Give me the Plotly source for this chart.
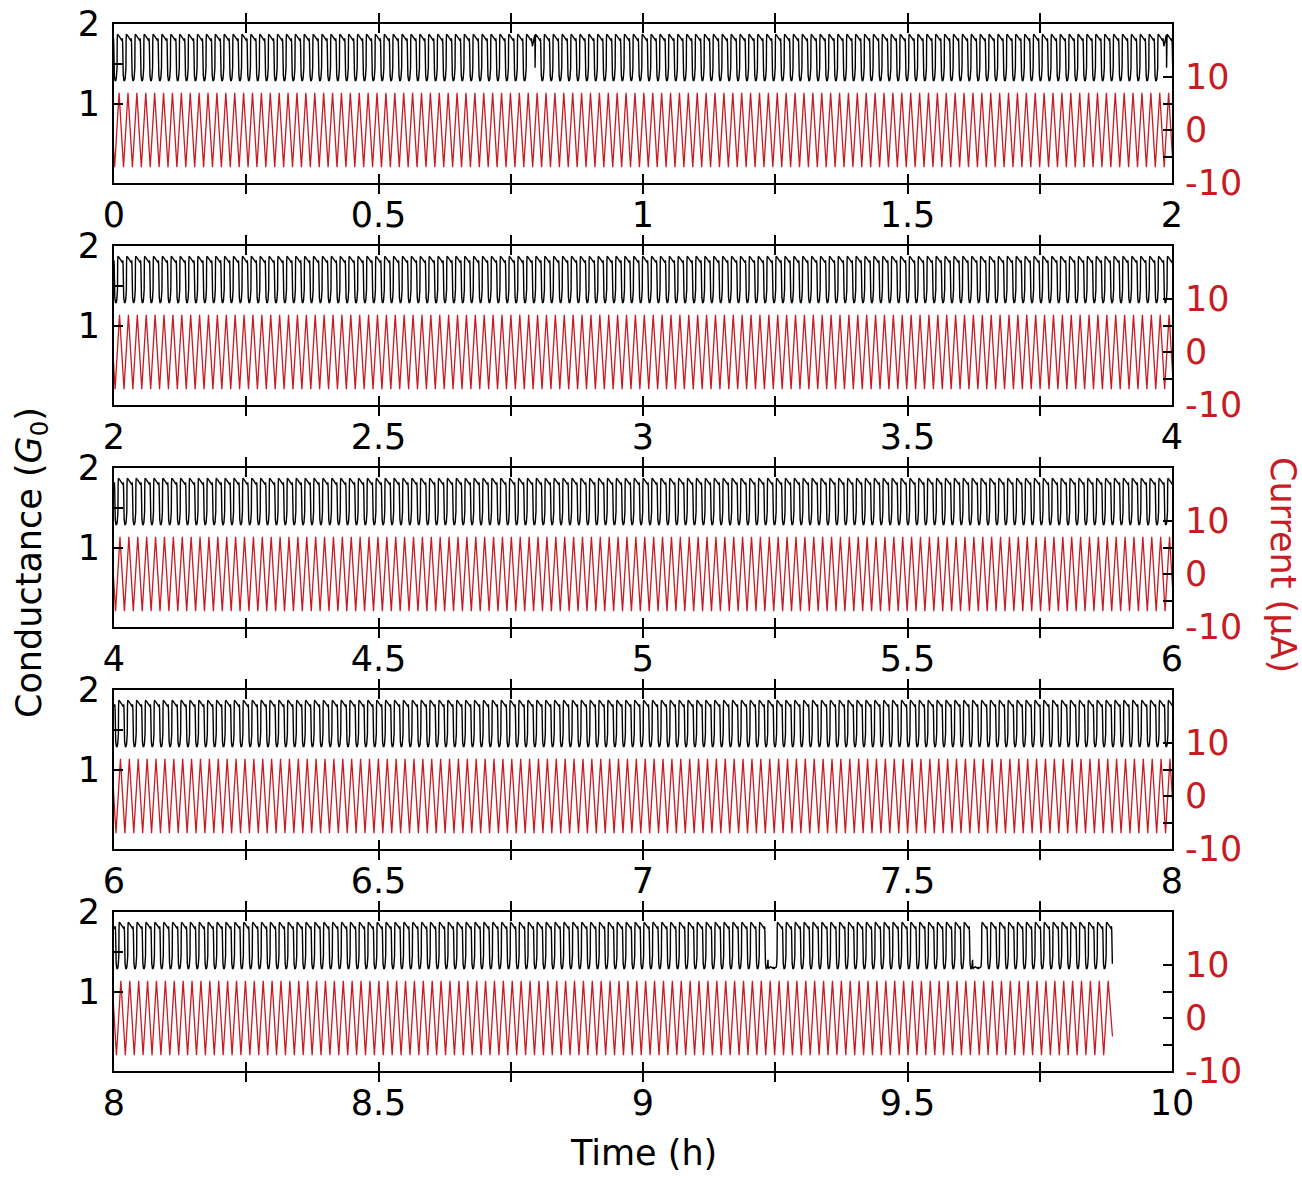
import numpy as np
import plotly.graph_objects as go

# ---- measured signal parameters -------------------------------------------
PERIOD_S = 60.53            # one full current sweep (s)
FIRST_TROUGH_H = 0.0012     # time of the first current minimum (h)
RECORD_END_H = 9.8875       # end of the recording (h)
CURRENT_MAX = 7.0           # triangular sweep amplitude (uA)
CURRENT_MIN = -7.0
CURRENT_AT_END = -3.5       # current value when the recording stops (uA)
SET_DELAY = 0.27            # fraction of a cycle after the minimum where the set happens

# conductance over one cycle (phase 0 = set event), in G0
CYCLE_PHASE = [0.00, 0.02, 0.05, 0.15, 0.30, 0.45, 0.55, 0.60, 0.63, 0.66,
               0.70, 0.78, 0.85, 0.92, 0.96, 0.985]
G_NORMAL = [1.45, 1.80, 1.87, 1.86, 1.84, 1.81, 1.79, 1.82, 1.76, 1.50,
            1.35, 1.29, 1.29, 1.32, 1.36, 1.40]
G_NO_RESET = [1.45, 1.80, 1.87, 1.86, 1.84, 1.81, 1.79, 1.82, 1.78, 1.75,
              1.72, 1.76, 1.80, 1.84, 1.86, 1.80]
G_NO_SET = [1.33, 1.30, 1.29, 1.30, 1.31, 1.30, 1.29, 1.30, 1.31, 1.30,
            1.29, 1.30, 1.30, 1.31, 1.34, 1.40]

# cycles where switching failed (approximate time, h)
NO_RESET_AT_H = [0.792, 1.985]
NO_SET_AT_H = [9.245, 9.64]

PANEL_STARTS_H = [0, 2, 4, 6, 8]
PANEL_SPAN_H = 2

RED = "rgb(200,28,36)"
FONT = "DejaVu Sans"
FS = 35

# ---- build the traces -----------------------------------------------------
period_h = PERIOD_S / 3600.0
n_cycles = int(np.ceil((RECORD_END_H - FIRST_TROUGH_H) / period_h)) + 2
k = np.arange(-1, n_cycles)

troughs = FIRST_TROUGH_H + k * period_h
peaks = troughs + period_h / 2
cur_t = np.ravel(np.column_stack([troughs, peaks]))
cur_v = np.ravel(np.column_stack([np.full_like(troughs, CURRENT_MIN),
                                  np.full_like(peaks, CURRENT_MAX)]))
keep = cur_t < RECORD_END_H
cur_t = np.append(cur_t[keep], RECORD_END_H)
cur_v = np.append(cur_v[keep], CURRENT_AT_END)

phase = np.array(CYCLE_PHASE)
g_t, g_v = [], []
for tr in troughs:
    t_set = tr + SET_DELAY * period_h
    t_next = t_set + period_h
    shape = G_NORMAL
    if any(t_set <= e < t_next for e in NO_RESET_AT_H):
        shape = G_NO_RESET
    if any(t_set <= e < t_next for e in NO_SET_AT_H):
        shape = G_NO_SET
    g_t.append(t_set + phase * period_h)
    g_v.append(np.array(shape))
g_t = np.concatenate(g_t)
g_v = np.concatenate(g_v)
keep = g_t <= RECORD_END_H
g_t, g_v = g_t[keep], g_v[keep]

# ---- figure ---------------------------------------------------------------
W, H = 1302, 1179
ML, MR, MT, MB = 114, 130, 24, 108
plot_h = H - MT - MB
plot_w = W - ML - MR
panel_px = 159
step_px = 222

common_axis = dict(
    ticks="inside", ticklen=9, tickwidth=1.5, tickcolor="black",
    showline=True, linecolor="black", linewidth=2,
    showgrid=False, zeroline=False, automargin=False,
)

fig = go.Figure()
layout = {}
for i, t0 in enumerate(PANEL_STARTS_H):
    t1 = t0 + PANEL_SPAN_H
    top_px = MT + i * step_px
    bot_px = top_px + panel_px
    dom = [(H - MB - bot_px) / plot_h, (H - MB - top_px) / plot_h]
    n = i + 1
    xa, ya, yr = f"x{n}", f"y{n}", f"y{n + 5}"

    sel_c = (cur_t >= t0 - period_h) & (cur_t <= t1 + period_h)
    fig.add_trace(go.Scatter(x=cur_t[sel_c], y=cur_v[sel_c], mode="lines",
                             line=dict(color=RED, width=1.3),
                             xaxis=xa, yaxis=yr, showlegend=False,
                             hoverinfo="skip"))
    sel_g = (g_t >= t0 - period_h) & (g_t <= t1 + period_h)
    fig.add_trace(go.Scatter(x=g_t[sel_g], y=g_v[sel_g], mode="lines",
                             line=dict(color="black", width=1.4),
                             xaxis=xa, yaxis=ya, showlegend=False,
                             hoverinfo="skip"))

    xt = [t0 + 0.25 * j for j in range(9)]
    layout[f"xaxis{'' if n == 1 else n}"] = dict(
        common_axis, domain=[0, 1], range=[t0, t1], anchor=ya,
        tickvals=xt,
        ticktext=[f"{v:g}" if j % 2 == 0 else "" for j, v in enumerate(xt)],
        mirror="allticks",
        tickfont=dict(family=FONT, size=FS, color="black"),
    )
    layout[f"yaxis{'' if n == 1 else n}"] = dict(
        common_axis, domain=dom, range=[0, 2], anchor=xa, side="left",
        tickvals=[1, 1.5, 2], ticktext=["1", "", "2"],
        mirror=True, ticklabelstandoff=5,
        tickfont=dict(family=FONT, size=FS, color="black"),
    )
    layout[f"yaxis{n + 5}"] = dict(
        common_axis, range=[-10, 20], anchor=xa, overlaying=ya, side="right",
        tickvals=[-10, -5, 0, 5, 10], ticktext=["-10", "", "0", "", "10"],
        ticklabelstandoff=4,
        tickfont=dict(family=FONT, size=FS, color=RED),
    )

fig.update_layout(
    width=W, height=H,
    margin=dict(l=ML, r=MR, t=MT, b=MB),
    paper_bgcolor="white", plot_bgcolor="white",
    font=dict(family=FONT, size=FS, color="black"),
    annotations=[
        dict(text="Conductance (<i>G</i><sub>0</sub>)", textangle=-90,
             x=(32 - ML) / plot_w, y=(H - MB - 563) / plot_h,
             xanchor="center", yanchor="middle",
             xref="paper", yref="paper", showarrow=False,
             font=dict(family=FONT, size=FS, color="black")),
        dict(text="Current (μA)", textangle=90,
             x=(1283 - ML) / plot_w, y=(H - MB - 565) / plot_h,
             xanchor="center", yanchor="middle",
             xref="paper", yref="paper", showarrow=False,
             font=dict(family=FONT, size=FS, color=RED)),
        dict(text="Time (h)",
             x=(643 - ML) / plot_w, y=(H - MB - 1153) / plot_h,
             xanchor="center", yanchor="middle",
             xref="paper", yref="paper", showarrow=False,
             font=dict(family=FONT, size=FS, color="black")),
    ],
    **layout,
)

fig.write_html("out.html")
